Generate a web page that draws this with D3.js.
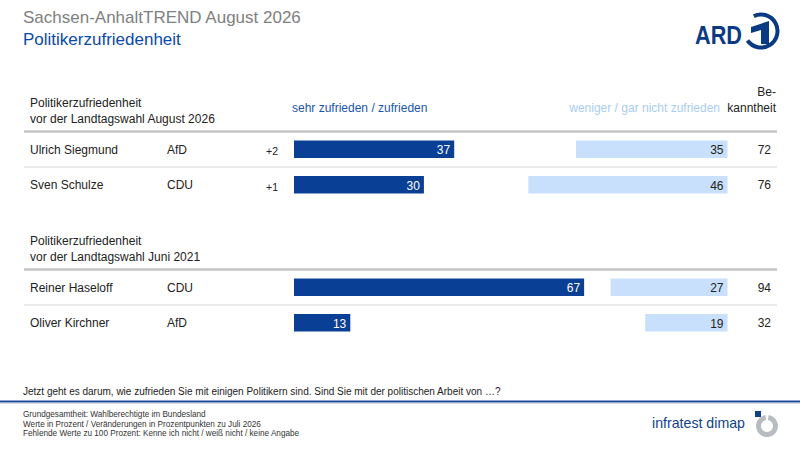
<!DOCTYPE html>
<html>
<head>
<meta charset="utf-8">
<script src="https://cdn.jsdelivr.net/npm/d3@7"></script>
<style>
  body { margin: 0; background: #fff; }
  svg { font-family: "Liberation Sans", Arial, sans-serif; display: block; }
</style>
</head>
<body>
<svg id="chart" width="800" height="450"></svg>
<script>
// group headers
var groupTitles = [
    ["Politikerzufriedenheit", "vor der Landtagswahl August 2026"],
    ["Politikerzufriedenheit", "vor der Landtagswahl Juni 2021"]
];
// politicians per group
var names = [["Ulrich Siegmund", "Sven Schulze"], ["Reiner Haseloff", "Oliver Kirchner"]];
var parties = [["AfD", "CDU"], ["CDU", "AfD"]];
var changes = [["+2", "+1"], ["", ""]];
var satisfied = [[37, 30], [67, 13]];
var dissatisfied = [[35, 46], [27, 19]];
var awareness = [[72, 76], [94, 32]];

var footnotes = [
    "Grundgesamtheit: Wahlberechtigte im Bundesland",
    "Werte in Prozent / Veränderungen in Prozentpunkten zu Juli 2026",
    "Fehlende Werte zu 100 Prozent: Kenne ich nicht / weiß nicht / keine Angabe"
];

var darkBlue = '#0a3f96';
var lightBlue = '#c8e0fb';
var svg = d3.select('#chart');

// titles
svg.append('text').attr('x', 23).attr('y', 23)
    .style('font-size', '17px').style('fill', '#808080')
    .text('Sachsen-AnhaltTREND August 2026');
svg.append('text').attr('x', 23).attr('y', 45)
    .style('font-size', '17px').style('fill', '#0a4aa8')
    .text('Politikerzufriedenheit');

// ARD logo
var ard = svg.append('g').style('fill', '#0b3a85');
ard.append('text').attr('x', 695).attr('y', 43.5)
    .attr('textLength', 47).attr('lengthAdjust', 'spacingAndGlyphs')
    .style('font-size', '26px').style('font-weight', 'bold')
    .text('ARD');
var arc = d3.arc().innerRadius(14.5).outerRadius(18.5)
    .startAngle(-0.45).endAngle(4.1);
ard.append('path').attr('transform', 'translate(761,31)').attr('d', arc());
ard.append('path')
    .attr('d', 'M751,27 L769,21 L769,44 L761,44 L761,30 L751,33 Z');

// scales: satisfied bars grow right from 294, dissatisfied bars grow left from 727.5
var xSat = d3.scaleLinear().domain([0, 100]).range([294, 727]);
var xDis = d3.scaleLinear().domain([0, 100]).range([727.5, 294.5]);
var groupTop = [131.5, 269.5];
var rowStep = 35.5;

// column headers
svg.append('text').attr('x', 292).attr('y', 112)
    .style('font-size', '12px').style('fill', '#1a55ad')
    .text('sehr zufrieden / zufrieden');
svg.append('text').attr('x', 720).attr('y', 112)
    .attr('text-anchor', 'end')
    .style('font-size', '12px').style('fill', '#a9cdf3')
    .text('weniger / gar nicht zufrieden');
svg.append('text').attr('x', 776).attr('y', 96).attr('text-anchor', 'end')
    .style('font-size', '12px').style('fill', '#222').text('Be-');
svg.append('text').attr('x', 776).attr('y', 112).attr('text-anchor', 'end')
    .style('font-size', '12px').style('fill', '#222').text('kanntheit');

groupTitles.forEach(function(title, gi){
    var top = groupTop[gi];
    var g = svg.append('g');
    g.selectAll('text.gt').data(title).enter().append('text')
        .attr('x', 30)
        .attr('y', (d, i) => top - 25 + i * 16)
        .style('font-size', '12px').style('fill', '#222')
        .text(d => d);
    g.append('line').attr('x1', 24).attr('x2', 777)
        .attr('y1', top).attr('y2', top)
        .style('stroke', '#c4c4c4').style('stroke-width', 2.5);

    var y = d3.scaleBand().domain(names[gi])
        .range([top, top + rowStep * names[gi].length])
        .paddingInner(0).paddingOuter(0);
    var rows = names[gi].map((n, i) => ({
        name: n, party: parties[gi][i], change: changes[gi][i],
        sat: satisfied[gi][i], dis: dissatisfied[gi][i], aw: awareness[gi][i]
    }));

    // separators between rows
    g.selectAll('line.sep').data(rows.slice(1)).enter().append('line')
        .attr('x1', 24).attr('x2', 777)
        .attr('y1', d => y(d.name)).attr('y2', d => y(d.name))
        .style('stroke', '#e4e4e4').style('stroke-width', 1.5);

    var row = g.selectAll('g.row').data(rows).enter().append('g')
        .attr('transform', d => 'translate(0,' + (y(d.name) + y.bandwidth() / 2) + ')');

    row.append('text').attr('x', 30).attr('y', 4.5)
        .style('font-size', '12px').style('fill', '#222').text(d => d.name);
    row.append('text').attr('x', 167).attr('y', 4.5)
        .style('font-size', '12px').style('fill', '#222').text(d => d.party);
    row.append('text').attr('x', 278).attr('y', 6).attr('text-anchor', 'end')
        .style('font-size', '10.5px').style('fill', '#222').text(d => d.change);

    row.append('rect')
        .attr('x', xSat(0)).attr('y', -8.75)
        .attr('width', d => xSat(d.sat) - xSat(0)).attr('height', 17.5)
        .style('fill', darkBlue);
    row.append('text').attr('x', d => xSat(d.sat) - 4).attr('y', 5)
        .attr('text-anchor', 'end')
        .style('font-size', '12px').style('fill', '#fff').text(d => d.sat);

    row.append('rect')
        .attr('x', d => xDis(d.dis)).attr('y', -8.75)
        .attr('width', d => xDis(0) - xDis(d.dis)).attr('height', 17.5)
        .style('fill', lightBlue);
    row.append('text').attr('x', xDis(0) - 4).attr('y', 5)
        .attr('text-anchor', 'end')
        .style('font-size', '12px').style('fill', '#222').text(d => d.dis);

    row.append('text').attr('x', 771).attr('y', 4.5).attr('text-anchor', 'end')
        .style('font-size', '12px').style('fill', '#222').text(d => d.aw);
});

// question
svg.append('text').attr('x', 23).attr('y', 395)
    .style('font-size', '10px').style('fill', '#222')
    .text('Jetzt geht es darum, wie zufrieden Sie mit einigen Politikern sind. Sind Sie mit der politischen Arbeit von …?');

// bottom rule
svg.append('line').attr('x1', 0).attr('x2', 800).attr('y1', 401.5).attr('y2', 401.5)
    .style('stroke', '#1a4a9c').style('stroke-width', 2);
svg.append('line').attr('x1', 0).attr('x2', 800).attr('y1', 403.5).attr('y2', 403.5)
    .style('stroke', '#d8dde6').style('stroke-width', 1);

svg.selectAll('text.foot').data(footnotes).enter().append('text')
    .attr('x', 23).attr('y', (d, i) => 417 + i * 9.5)
    .style('font-size', '8.2px').style('fill', '#333')
    .text(d => d);

// infratest dimap logo
svg.append('text').attr('x', 652).attr('y', 428)
    .attr('textLength', 93).attr('lengthAdjust', 'spacingAndGlyphs')
    .style('font-size', '15px').style('fill', '#123f8a')
    .text('infratest dimap');
var ring = d3.arc().innerRadius(6).outerRadius(11)
    .startAngle(0.15).endAngle(Math.PI * 2 - 0.15);
svg.append('path').attr('transform', 'translate(767,426)')
    .attr('d', ring()).style('fill', '#b8bcc1');
svg.append('rect').attr('x', 755).attr('y', 411).attr('width', 6).attr('height', 6)
    .style('fill', '#123f8a');
</script>
</body>
</html>
